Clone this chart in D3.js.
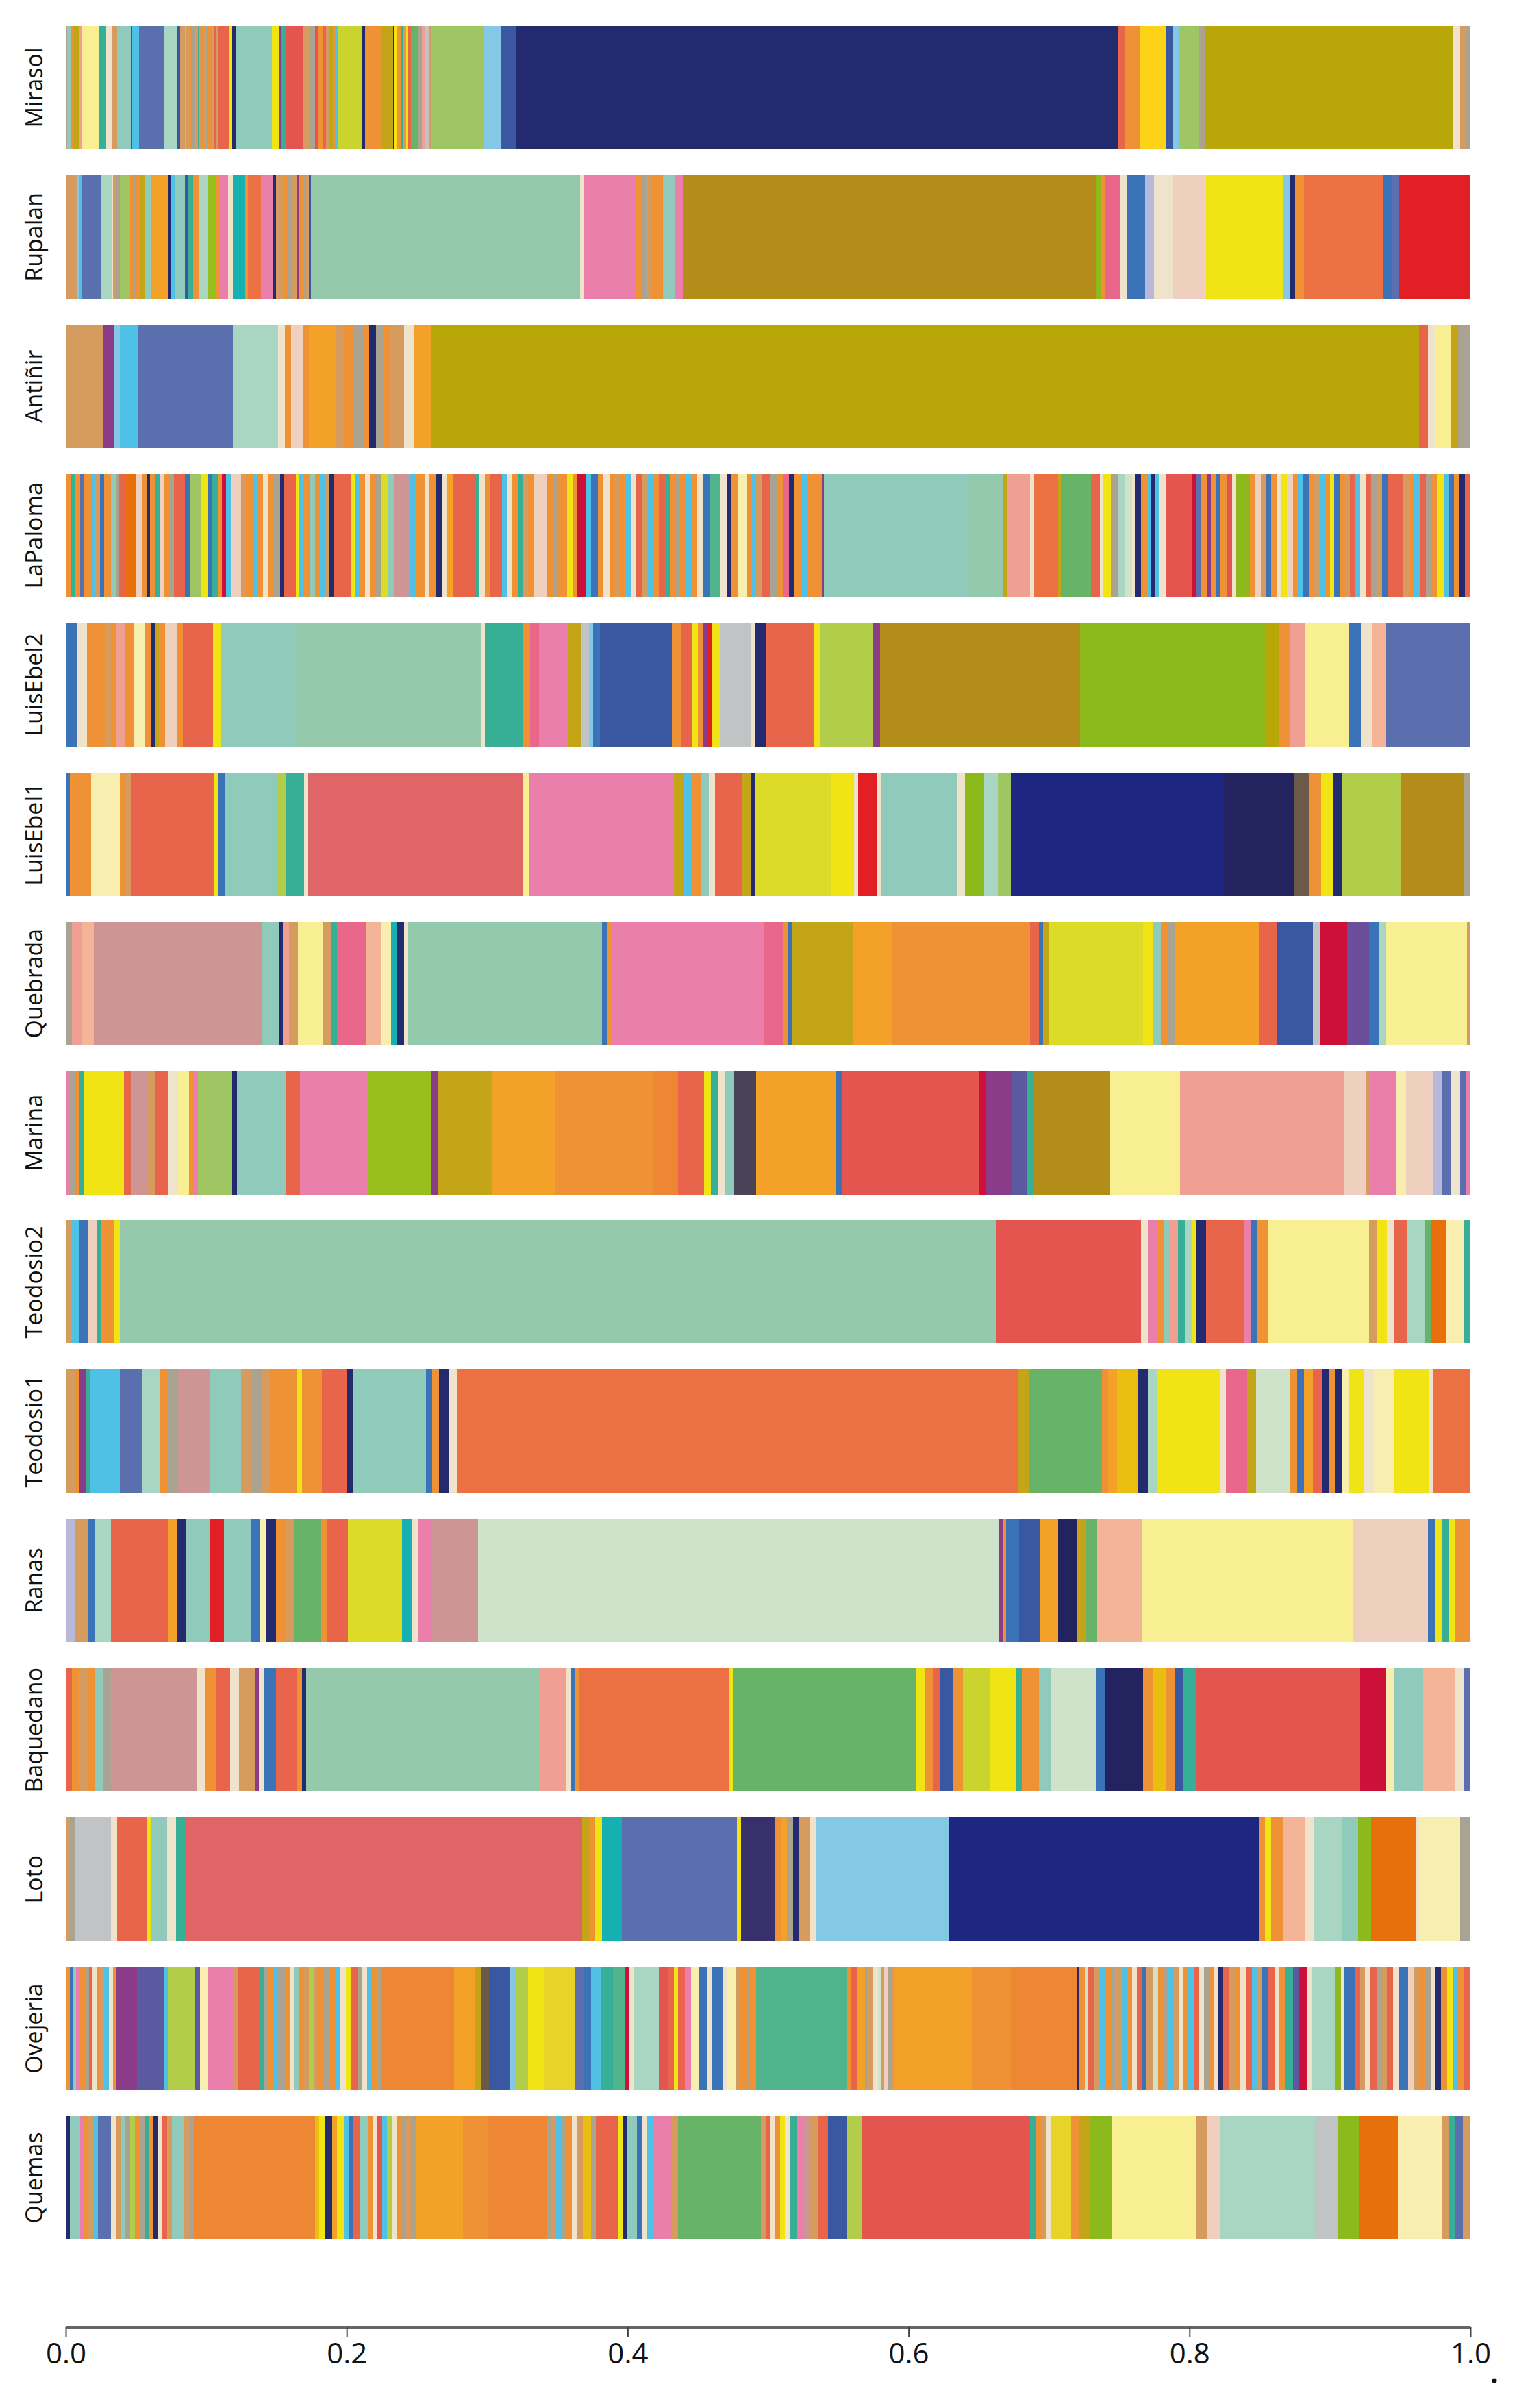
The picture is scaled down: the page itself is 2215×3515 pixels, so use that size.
<!DOCTYPE html>
<html>
<head>
<meta charset="utf-8">
<script src="https://d3js.org/d3.v7.min.js"></script>
<style>
  body { margin: 0; background: #fff; }
  .site { font-family: "Open Sans", sans-serif; font-size: 34px; fill: #111; }
  .axis text { font-family: "Open Sans", sans-serif; font-size: 42px; fill: #111; }
  .axis path { stroke: #666; stroke-width: 3; }
  .axis line { stroke: #444; stroke-width: 2; }
</style>
</head>
<body>
<div id="myGraph"></div>
<script>
// sites, top to bottom
var sites = ["Mirasol", "Rupalan", "Antiñir", "LaPaloma", "LuisEbel2", "LuisEbel1", "Quebrada",
  "Marina", "Teodosio2", "Teodosio1", "Ranas", "Baquedano", "Loto", "Ovejeria", "Quemas"];

var ticks = [0, 0.2, 0.4, 0.6, 0.8, 1.0];

// OTU colour groups
var otuKeys = ["nv","nv2","dn","ol","gb","mt","tl","pm","pg","pk","pr","rd","cr","oc","ro","sr","r2","sa","lp","pe",
  "dr","ye","ly","cy","lz","yz","gy","gd","gz","or","o2","o3","do","tn","lg","l2","yg","gn","g1","g2",
  "te","cn","bl","b2","pw","pb","pp","sk","s2","gr","gt","pu","ds","pl","lv","ob","bn","dp"];
var otuColors = ["#232a6e","#1d2680","#23235f","#b9a608","#b48c1a","#94caab","#8fcabb","#a9d6c3","#cfe2ca","#ea7fab",
  "#e9678a","#e31f26","#cd1039","#eb7142","#e8644b","#e06566","#e55550","#f0a092","#f4b497","#efcfbe",
  "#cd9594","#f0e415","#f7ef92","#f8eeb0","#dcdb28","#c9d42f","#fdd319","#e9be10","#e8d428","#ef9235",
  "#f4a12a","#ee8734","#e8700c","#d59b5f","#8cba1c","#97c01e","#b2cd4a","#9fc663","#67b468","#50b48c",
  "#37af96","#16b0b0","#3a58a1","#3b73b9","#5b6fae","#5b5aa0","#6a4e9a","#84c8e6","#4fc0e6","#c0c4c4",
  "#aaa391","#8a3c88","#4a4256","#efe3cc","#b8b8da","#c4a517","#6b5a4a","#38306b"];

// relative abundance (%) per site, [otu, value] in bar order
var mirasol = [["gt",0.12],["tl",0.24],["or",0.17],["ob",0.38],["sa",0.28],["ly",1.13],["te",0.57],["pl",0.42],["tn",0.35],["tl",0.95],
  ["bl",0.12],["s2",0.47],["pw",1.77],["pm",0.95],["bl",0.24],["tn",0.3],["tl",0.12],["tn",0.25],["or",0.12],["gt",0.2],
  ["tn",0.25],["te",0.1],["tn",0.08],["or",0.2],["tn",0.2],["gt",0.15],["or",0.25],["tn",0.2],["ro",0.15],["tn",0.15],
  ["ro",0.71],["ye",0.24],["nv",0.24],["tl",2.6],["ye",0.47],["pu",0.19],["te",0.33],["r2",1.25],["tn",0.47],["gt",0.35],
  ["r2",0.24],["or",0.3],["ro",0.25],["tn",0.2],["ob",0.3],["or",0.2],["s2",0.17],["yz",1.65],["nv",0.24],["or",1.18],
  ["ob",0.83],["nv",0.12],["ye",0.2],["or",0.25],["te",0.18],["tn",0.2],["ye",0.15],["ro",0.2],["g1",0.47],["gt",0.3],
  ["sa",0.25],["gr",0.2],["tn",0.2],["gn",3.78],["sk",1.18],["bl",1.1],["nv",42.85],["ro",0.5],["or",1.0],["gy",1.9],
  ["bl",0.45],["sk",0.5],["gn",1.4],["gt",0.4],["ol",17.7],["pl",0.45],["tn",0.4],["gt",0.35]];

var rupalan = [["tn",0.83],["sk",0.12],["s2",0.19],["pw",1.35],["pm",0.78],["pl",0.12],["tn",0.17],["gt",0.3],["gn",0.71],["or",0.24],
  ["gt",0.24],["or",0.24],["ob",0.35],["tl",0.47],["o2",1.18],["nv",0.24],["s2",0.24],["tl",0.71],["bl",0.24],["te",0.35],
  ["or",0.47],["pm",0.59],["l2",0.59],["or",0.24],["pk",0.59],["pl",0.35],["cn",0.83],["or",0.24],["oc",0.95],["pk",0.83],
  ["nv",0.24],["tn",0.59],["or",0.3],["gt",0.25],["tn",0.3],["pu",0.15],["or",0.3],["gt",0.2],["tn",0.27],["bl",0.12],
  ["mt",19.2],["pl",0.3],["pk",3.66],["or",0.5],["gt",0.3],["tn",0.35],["or",0.8],["tl",0.8],["pk",0.6],["gb",29.5],
  ["lg",0.35],["or",0.3],["pr",1.0],["pl",0.5],["b2",1.3],["lv",0.65],["pl",1.3],["pe",2.4],["ye",5.5],["sk",0.45],
  ["nv",0.4],["or",0.65],["oc",5.6],["b2",0.65],["pw",0.5],["rd",5.1]];

var antinir = [["tn",2.7],["pu",0.7],["sk",0.45],["s2",1.3],["pw",6.75],["pm",3.2],["pl",0.5],["or",0.45],["pe",0.8],["or",0.45],
  ["o2",1.9],["tn",0.65],["or",0.65],["gt",0.65],["or",0.45],["nv",0.5],["gt",0.5],["or",0.5],["tn",1.0],["pl",0.65],
  ["o2",1.3],["ol",70.3],["ro",0.65],["pl",0.45],["ly",1.15],["ob",0.5],["gt",0.9]];

var laPaloma = [["or",0.35],["te",0.27],["or",0.4],["pw",0.27],["or",0.58],["s2",0.24],["tn",0.34],["b2",0.27],["or",0.5],["tl",0.34],
  ["gt",0.24],["ro",0.45],["do",0.68],["pe",0.45],["or",0.34],["nv",0.24],["or",0.34],["te",0.34],["pe",0.34],["or",0.34],
  ["gt",0.34],["ro",0.79],["b2",0.34],["gn",0.75],["ye",0.55],["b2",0.3],["te",0.45],["or",0.24],["cr",0.27],["s2",0.41],
  ["pe",0.68],["tn",0.34],["or",0.45],["s2",0.34],["or",0.41],["pl",0.34],["or",0.41],["gt",0.45],["nv",0.24],["ro",0.89],
  ["ye",0.24],["s2",0.34],["or",0.45],["tl",0.34],["or",0.34],["s2",0.34],["tn",0.34],["nv",0.34],["ro",1.16],["ye",0.27],
  ["s2",0.41],["or",0.34],["pl",0.34],["or",0.34],["gt",0.45],["lz",0.45],["tl",0.48],["dr",1.13],["s2",0.34],["or",0.68],
  ["pl",0.34],["or",0.45],["nv",0.48],["pl",0.27],["o2",0.51],["ro",1.47],["te",0.34],["pl",0.41],["or",0.34],["ro",0.86],
  ["s2",0.34],["pl",0.34],["or",0.51],["te",0.34],["tn",0.34],["or",0.41],["pe",0.89],["or",0.48],["gt",0.27],["or",0.68],
  ["ye",0.41],["or",0.34],["cr",0.62],["s2",0.34],["b2",0.51],["or",0.34],["pl",0.45],["or",0.41],["tn",0.34],["or",0.41],
  ["s2",0.34],["pl",0.34],["ro",0.45],["tn",0.45],["s2",0.34],["or",0.41],["ro",0.51],["te",0.34],["or",0.34],["gt",0.34],
  ["or",0.45],["s2",0.34],["or",0.41],["pl",0.41],["b2",0.45],["g2",0.79],["pl",0.48],["nv",0.27],["or",0.51],["cy",0.58],
  ["or",0.34],["s2",0.34],["tn",0.45],["ro",0.58],["gt",0.55],["or",0.34],["pr",0.41],["nv",0.34],["or",0.51],["s2",0.45],
  ["or",1.03],["pu",0.15],["tl",10.2],["mt",2.5],["ob",0.3],["sa",1.6],["pl",0.3],["oc",1.7],["ob",0.2],["g1",2.15],
  ["ro",0.6],["pl",0.2],["ye",0.6],["gt",0.5],["pm",0.47],["pg",0.5],["pl",0.2],["nv",0.47],["or",0.41],["s2",0.24],
  ["nv",0.3],["s2",0.35],["pl",0.41],["r2",1.9],["cr",0.24],["pw",0.41],["or",0.38],["pu",0.3],["or",0.38],["b2",0.3],
  ["or",0.41],["r2",0.38],["pl",0.3],["lg",0.97],["or",0.35],["pe",0.44],["tn",0.38],["b2",0.35],["or",0.44],["pl",0.3],
  ["ye",0.38],["pe",0.41],["or",0.38],["s2",0.38],["b2",0.41],["or",0.38],["tn",0.38],["s2",0.35],["or",0.35],["ye",0.3],
  ["b2",0.38],["or",0.38],["tn",0.35],["ro",0.35],["s2",0.38],["pl",0.38],["ro",0.41],["gt",0.38],["tn",0.38],["b2",0.41],
  ["ro",1.12],["tn",0.35],["or",0.38],["s2",0.44],["ro",0.44],["gt",0.38],["or",0.35],["ye",0.53],["s2",0.35],["b2",0.35],
  ["or",0.38],["nv",0.38],["ro",0.41]];

var luisEbel2 = [["b2",0.85],["pl",0.65],["or",1.3],["tn",0.4],["or",0.35],["sa",0.65],["or",0.65],["cy",0.75],["or",0.5],["nv",0.25],
  ["ob",0.25],["or",0.45],["pe",0.85],["or",0.45],["ro",2.1],["ye",0.6],["tl",5.3],["mt",13.15],["pl",0.3],["te",2.75],
  ["or",0.45],["pr",0.65],["pk",2.05],["ob",1.0],["gr",0.5],["sk",0.3],["b2",0.5],["bl",5.1],["or",0.65],["ro",0.8],
  ["ye",0.4],["or",0.4],["pu",0.3],["rd",0.35],["ye",0.5],["gr",2.25],["pl",0.3],["nv",0.8],["ro",3.4],["ye",0.45],
  ["yg",3.7],["pu",0.5],["gb",14.25],["lg",13.2],["ol",0.95],["or",0.8],["sa",1.0],["ly",3.2],["b2",0.8],["pl",0.8],
  ["lp",1.0],["pw",6.0]];

var luisEbel1 = [["b2",0.3],["or",1.5],["cy",2.05],["or",0.4],["tn",0.4],["ro",5.9],["ye",0.3],["b2",0.45],["tl",3.7],["yg",0.65],
  ["te",1.3],["pl",0.3],["sr",15.2],["ly",0.5],["pk",10.3],["ob",0.65],["s2",0.65],["or",0.65],["tl",0.5],["pl",0.45],
  ["ro",1.9],["ob",0.65],["nv",0.3],["lz",5.45],["ye",1.6],["pl",0.3],["rd",1.3],["pl",0.3],["tl",5.45],["pl",0.5],
  ["lg",1.4],["pm",0.95],["gn",0.95],["nv2",15.1],["dn",5.0],["bn",1.1],["or",0.85],["ye",0.8],["nv",0.65],["yg",4.2],
  ["gb",4.5],["gt",0.45]];

var quebrada = [["gt",0.45],["sa",0.65],["lp",0.9],["dr",12.0],["tl",1.15],["nv",0.3],["sa",0.45],["tn",0.65],["ly",1.8],["tn",0.5],
  ["te",0.45],["pr",2.1],["lp",1.1],["cy",0.65],["cn",0.45],["nv",0.5],["pl",0.3],["mt",13.8],["b2",0.3],["or",0.35],
  ["pk",10.9],["pr",1.3],["or",0.35],["b2",0.3],["ob",4.35],["o2",2.8],["or",9.8],["ro",0.65],["b2",0.3],["ob",0.35],
  ["lz",6.75],["ye",0.75],["tl",0.5],["or",0.5],["gt",0.5],["o2",6.0],["ro",1.3],["bl",2.55],["gr",0.5],["cr",1.9],
  ["pp",1.6],["b2",0.65],["pm",0.5],["ly",5.8],["tn",0.25]];

var marina = [["pk",0.3],["gt",0.35],["or",0.3],["te",0.3],["ye",2.9],["ro",0.5],["dr",1.1],["tn",0.65],["ro",0.85],["pl",0.75],
  ["ly",0.75],["or",0.35],["pk",0.3],["gn",2.45],["nv",0.3],["tl",3.55],["ro",0.95],["pk",4.8],["l2",4.5],["pu",0.5],
  ["ob",3.85],["o2",4.5],["or",6.9],["o3",1.8],["ro",1.85],["ye",0.5],["te",0.5],["pl",0.55],["tl",0.55],["ds",1.6],
  ["o2",5.65],["b2",0.45],["r2",9.8],["cr",0.45],["pu",1.9],["pb",1.0],["te",0.45],["gb",5.5],["ly",4.95],["sa",11.7],
  ["pe",1.5],["tn",0.3],["pk",1.9],["cy",0.65],["pe",1.9],["lv",0.65],["pw",0.65],["pl",0.65],["pw",0.4],["pk",0.35]];

var teodosio2 = [["tn",0.45],["s2",0.5],["b2",0.65],["pe",0.65],["te",0.3],["or",0.35],["or",0.5],["ye",0.45],["mt",62.4],["r2",10.35],
  ["pl",0.45],["pk",0.65],["or",0.5],["tl",0.5],["sa",0.5],["te",0.5],["pm",0.5],["ye",0.35],["nv",0.65],["ro",2.7],
  ["pk",0.5],["b2",0.5],["or",0.75],["ly",7.2],["tn",0.5],["ye",0.75],["pl",0.5],["ro",0.9],["pm",1.3],["g1",0.4],
  ["do",1.1],["cy",1.3],["te",0.45]];

var teodosio1 = [["tn",0.65],["or",0.3],["pu",0.5],["te",0.3],["s2",2.1],["pw",1.6],["pm",1.3],["or",0.5],["gt",0.75],["dr",2.25],
  ["tl",2.25],["tn",0.75],["gt",0.7],["tn",0.6],["or",1.9],["ye",0.4],["or",1.4],["ro",1.8],["nv",0.45],["tl",5.15],
  ["b2",0.45],["or",0.5],["nv",0.65],["pl",0.65],["oc",39.9],["ob",0.85],["g1",5.15],["or",0.45],["o2",0.65],["gd",1.5],
  ["nv",0.65],["pm",0.65],["ye",4.5],["pl",0.45],["pr",1.5],["ob",0.65],["pg",2.4],["or",0.5],["b2",0.5],["o2",0.65],
  ["ro",0.65],["nv",0.45],["or",0.45],["nv",0.5],["cy",0.5],["ye",1.1],["pl",0.65],["cy",1.5],["ye",2.4],["pl",0.3],
  ["oc",2.7]];

var ranas = [["lv",0.65],["tn",0.95],["b2",0.5],["pm",1.1],["ro",4.05],["o2",0.65],["nv",0.65],["tl",1.75],["rd",0.95],["tl",1.9],
  ["b2",0.65],["cy",0.5],["nv",0.65],["or",0.65],["tn",0.65],["g1",1.9],["or",0.45],["ro",1.5],["lz",3.85],["cn",0.65],
  ["pl",0.45],["pk",0.95],["dr",3.35],["pg",37.1],["pu",0.25],["or",0.25],["b2",0.9],["bl",1.5],["o2",1.3],["dn",1.3],
  ["ob",0.65],["g1",0.85],["lp",3.2],["ly",15.0],["pe",5.35],["b2",0.45],["ye",0.5],["te",0.5],["ye",0.45],["or",1.1]];

var baquedano = [["ro",0.45],["or",0.5],["tn",0.65],["or",0.5],["tl",0.55],["gt",0.55],["dr",6.1],["pl",0.65],["or",0.75],["ro",1.0],
  ["pl",0.65],["tn",1.1],["pu",0.3],["pl",0.35],["b2",0.85],["ro",1.5],["or",0.35],["nv",0.3],["mt",16.55],["sa",0.65],
  ["sa",1.3],["pl",0.35],["b2",0.3],["or",0.3],["oc",10.6],["ye",0.3],["g1",13.05],["ye",0.65],["or",0.55],["ro",0.55],
  ["bl",0.85],["or",0.75],["yz",1.9],["ye",1.9],["te",0.4],["or",0.35],["or",0.85],["tl",0.85],["pg",3.2],["b2",0.65],
  ["dn",2.7],["or",0.75],["gd",0.85],["or",0.65],["bl",0.65],["te",0.85],["r2",11.7],["cr",1.8],["cy",0.65],["tl",2.05],
  ["lp",2.25],["pl",0.65],["pw",0.45]];

var loto = [["tn",0.3],["gt",0.35],["gr",2.55],["pl",0.45],["ro",2.1],["ye",0.3],["tl",1.15],["pl",0.65],["te",0.65],["sr",28.25],
  ["ob",0.45],["or",0.45],["ye",0.5],["cn",1.4],["pw",8.2],["ye",0.3],["dp",2.4],["or",0.4],["o2",0.45],["gt",0.45],
  ["nv",0.4],["tn",0.75],["pl",0.5],["sk",9.45],["nv2",22.0],["or",0.45],["ye",0.45],["or",0.85],["lp",1.5],["pl",0.65],
  ["pm",2.05],["tl",1.1],["lg",0.95],["do",3.2],["pl",0.2],["cy",2.9],["gt",0.75]];

var ovejeria = [["or",0.27],["b2",0.24],["tl",0.24],["pk",0.27],["or",0.34],["gt",0.27],["ro",0.24],["pl",0.34],["or",0.24],["tn",0.27],
  ["s2",0.34],["pl",0.27],["or",0.27],["pu",1.44],["pb",1.95],["s2",0.24],["yg",1.92],["pb",0.34],["cy",0.58],["pk",1.88],
  ["tn",0.27],["ro",1.44],["te",0.34],["gt",0.34],["or",0.34],["s2",0.34],["gt",0.51],["or",0.34],["pl",0.34],["tl",0.34],
  ["or",0.34],["tn",0.34],["yg",0.34],["tn",0.34],["or",0.34],["gt",0.45],["or",0.41],["s2",0.34],["pl",0.41],["ye",0.34],
  ["ro",0.45],["gt",0.34],["pl",0.34],["s2",0.34],["or",0.45],["gt",0.24],["o3",5.13],["o2",1.54],["ob",0.41],["bn",0.55],
  ["bl",1.44],["sk",0.51],["yg",0.79],["ye",1.16],["gz",2.15],["pw",0.68],["b2",0.51],["s2",0.68],["te",0.85],["g2",0.85],
  ["cr",0.34],["pl",0.34],["pm",1.71],["r2",0.68],["ro",0.41],["ye",0.27],["ro",0.51],["pk",0.45],["cy",0.58],["b2",0.51],
  ["pl",0.34],["b2",0.85],["pl",0.24],["cy",0.62],["tn",0.34],["or",0.41],["gt",0.27],["or",0.41],["g2",6.48],["or",0.24],
  ["ro",0.44],["o2",0.59],["gt",0.2],["tn",0.38],["pl",0.3],["pg",0.2],["tn",0.24],["pe",0.24],["gt",0.3],["tn",0.2],
  ["o2",5.47],["or",2.8],["o3",4.64],["nv",0.18],["or",0.41],["pg",0.24],["ro",0.44],["tn",0.38],["s2",0.35],["or",0.44],
  ["gt",0.3],["tn",0.44],["s2",0.35],["or",0.38],["pl",0.38],["ro",0.3],["b2",0.35],["tn",0.44],["pg",0.38],["or",0.35],
  ["gt",0.35],["s2",0.38],["tn",0.38],["pl",0.35],["or",0.35],["s2",0.38],["ro",0.38],["pl",0.35],["gt",0.35],["or",0.38],
  ["pl",0.3],["nv",0.3],["ro",0.44],["tn",0.44],["or",0.38],["pl",0.35],["ro",0.44],["s2",0.38],["tn",0.35],["b2",0.44],
  ["ro",0.44],["pl",0.3],["or",0.44],["te",0.59],["pb",0.44],["cr",0.53],["pl",0.3],["pm",1.68],["lg",0.44],["pl",0.24],
  ["b2",0.71],["ro",0.38],["tn",0.38],["pl",0.35],["ro",0.44],["gt",0.38],["tn",0.35],["ro",0.44],["pl",0.44],["b2",0.65],
  ["pe",0.38],["tn",0.44],["or",0.44],["gt",0.38],["pl",0.3],["nv",0.35],["or",0.44],["ye",0.44],["s2",0.35],["or",0.38],
  ["ro",0.5]];

var quemas = [["nv",0.27],["tl",0.75],["pk",0.27],["or",0.34],["tn",0.34],["s2",0.34],["pw",0.92],["pl",0.34],["tn",0.34],["tl",0.34],
  ["gt",0.34],["yg",0.34],["or",0.34],["gt",0.34],["te",0.34],["or",0.24],["nv",0.34],["pl",0.27],["ro",0.41],["tn",0.34],
  ["tl",0.34],["tl",0.55],["tn",0.34],["gt",0.34],["o3",8.62],["gd",0.27],["ye",0.41],["nv",0.51],["o2",0.34],["ye",0.51],
  ["s2",0.34],["b2",0.34],["ro",0.41],["tl",0.62],["or",0.34],["pl",0.34],["r2",0.34],["s2",0.34],["yg",0.34],["pl",0.34],
  ["or",0.34],["gt",0.34],["tn",0.34],["gt",0.41],["o2",3.28],["or",1.78],["o3",4.17],["gt",0.34],["tn",0.34],["s2",0.34],
  ["gt",0.34],["or",0.45],["pl",0.34],["tn",0.45],["gd",0.58],["gt",0.34],["ro",0.86],["ro",0.68],["ye",0.41],["nv",0.27],
  ["tl",0.68],["b2",0.34],["pl",0.34],["s2",0.51],["pk",1.27],["tn",0.45],["g1",5.92],["tn",0.34],["ro",0.34],["pl",0.34],
  ["or",0.34],["ye",0.34],["pl",0.41],["te",0.41],["pk",0.45],["dr",0.51],["tn",0.62],["ro",0.65],["bl",1.4],["yg",1.0],
  ["r2",12.0],["te",0.4],["or",0.4],["tn",0.35],["pl",0.35],["gz",1.4],["or",0.6],["ob",0.7],["lg",1.6],["ly",6.0],
  ["tn",0.75],["pe",0.95],["pm",6.75],["gr",1.6],["lg",1.5],["do",2.8],["cy",3.1],["tn",0.5],["te",0.5],["pw",0.5],
  ["tn",0.55]];

var siteData = [mirasol, rupalan, antinir, laPaloma, luisEbel2, luisEbel1, quebrada,
  marina, teodosio2, teodosio1, ranas, baquedano, loto, ovejeria, quemas];

//틀 그리기
var width = 2215, height = 3515;

var x = d3.scaleLinear().domain([0, 1]).range([96, 2147]);
var y = d3.scaleBand().domain(sites).range([38, 3269]).paddingInner(0.174).paddingOuter(0);
var color = d3.scaleOrdinal().domain(otuKeys).range(otuColors);

var svg = d3.select("#myGraph").append("svg")
  .attr("width", width)
  .attr("height", height);

// proportions -> start/end along the bar
var rows = sites.map(function(name, i) {
  var segs = siteData[i];
  var total = d3.sum(segs, function(d) { return d[1]; });
  var ends = d3.cumsum(segs, function(d) { return d[1] / total; });
  return {
    site: name,
    segs: segs.map(function(d, j) {
      return { otu: d[0], x0: j ? ends[j - 1] : 0, x1: ends[j] };
    })
  };
});

var g = svg.selectAll(".bar")
  .data(rows)
  .enter().append("g")
  .attr("class", "bar")
  .attr("transform", function(d) { return "translate(0," + y(d.site) + ")"; });

g.selectAll("rect")
  .data(function(d) { return d.segs; })
  .enter().append("rect")
  .attr("x", function(d) { return x(d.x0); })
  .attr("width", function(d) { return Math.max(0, x(d.x1) - x(d.x0)); })
  .attr("y", 0)
  .attr("height", y.bandwidth())
  .attr("shape-rendering", "crispEdges")
  .style("fill", function(d) { return color(d.otu); });

// site labels
g.append("text")
  .attr("class", "site")
  .attr("transform", "translate(62," + (y.bandwidth() / 2) + ") rotate(-90)")
  .style("text-anchor", "middle")
  .text(function(d) { return d.site; });

//축 그리기
var axis = svg.append("g")
  .attr("class", "axis")
  .attr("transform", "translate(0,3397)")
  .call(d3.axisBottom(x).tickValues(ticks).tickFormat(d3.format(".1f"))
    .tickSize(15).tickSizeOuter(0).tickPadding(8));

svg.append("circle")
  .attr("cx", 2182).attr("cy", 3475).attr("r", 3.5)
  .style("fill", "#111");
</script>
</body>
</html>
